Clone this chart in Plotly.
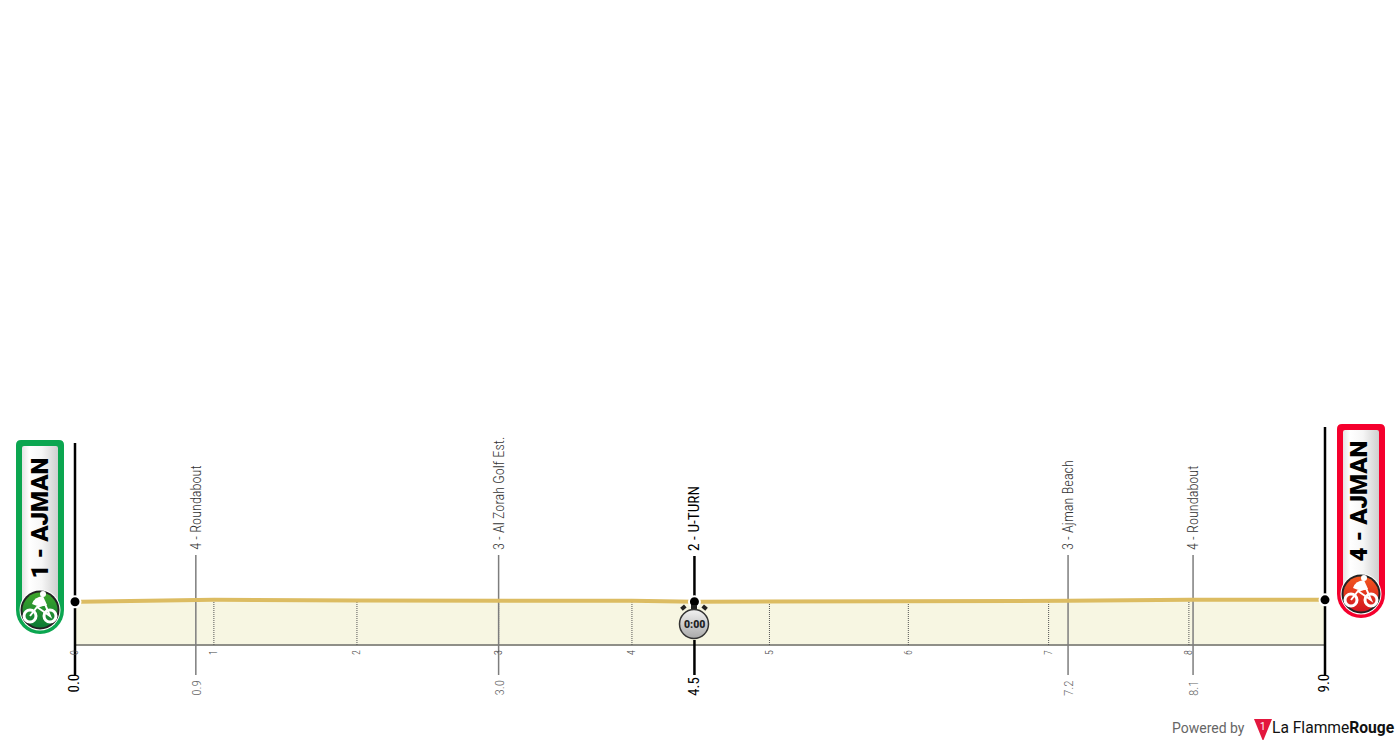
import base64
import numpy as np
import plotly.graph_objects as go

# ---- data ----
profile_km = [0.04, 0.87, 1.0, 2.03, 3.05, 4.01, 4.46, 5.0, 6.0, 7.01, 7.15, 8.02, 8.05, 8.97]
profile_elev = [6.7, 7.0, 7.0, 6.9, 6.9, 6.85, 6.7, 6.7, 6.8, 6.8, 6.85, 7.0, 7.0, 7.0]
km_ticks = [0, 1.0, 2.03, 3.05, 4.01, 5.0, 6.0, 7.01, 8.02]
km_labels = ["0", "1", "2", "3", "4", "5", "6", "7", "8"]
point_km = [0.87, 3.05, 4.46, 7.15, 8.05]
point_names = ["4 - Roundabout", "3 - Al Zorah Golf Est.", "2 - U-TURN", "3 - Ajman Beach", "4 - Roundabout"]
point_dist = ["0.9", "3.0", "4.5", "7.2", "8.1"]
point_major = [False, False, True, False, False]
start_label, finish_label = "1 - AJMAN", "4 - AJMAN"
start_dist, finish_dist = "0.0", "9.0"
start_km, finish_km = 0.0, 9.0
area_km = [0.0, 9.0]
area_elev = [6.7, 7.0]

W, H = 1400, 745
L, R, B = 65, 65, 45
BASE_PX = 645
PW, PH = W - L - R, H - B
KM_PX = 1250 / 9
X_LO = -(75 - L) / KM_PX
X_HI = 9 + (75 - R) / KM_PX
GOLD, FILL, BASE, GREY = "#dcbc62", "#f7f6e2", "#8f8f88", "#7d7d7d"
COND = "Roboto Condensed Light, Roboto Condensed"


def px(p):
    return (p - L) / PW


def kx(k):
    return px(75 + k * KM_PX)


def py(p):
    return (PH - p) / PH


def yval(p):
    return (BASE_PX - p) / 6.45


def uri(svg):
    return "data:image/svg+xml;base64," + base64.b64encode(svg.encode()).decode()


BIKE = (
    '<g fill="none" stroke="#fff" stroke-width="3"><circle cx="{a}" cy="{c}" r="6"/><circle cx="{b}" cy="{c}" r="6"/></g>'
    '<path d="M{a} {c} L{m} {c0} L{b} {c} L{m2} {c1} L{m} {c0}" stroke="#fff" stroke-width="2" fill="none"/>'
    '<path d="M{h0} {t0} Q{h1} {t1} {h2} {t2} L{h3} {t3} Q{h4} {t4} {h0} {t0}" fill="#fff"/>'
    '<circle cx="{hx}" cy="{hy}" r="3" fill="#fff"/>'
)


def pill(border, c1, c2, uid):
    w, h = 48, 194
    bike = BIKE.format(a=14, b=34, c=176, m=21, c0=167, m2=29, c1=164,
                       h0=16, t0=164, h1=18, t1=157, h2=27, t2=156, h3=31, t3=165, h4=24, t4=168,
                       hx=27, hy=154)
    return uri(f'''<svg xmlns="http://www.w3.org/2000/svg" width="{w}" height="{h}" viewBox="0 0 {w} {h}">
<defs><linearGradient id="g{uid}" x1="0" x2="1" y1="0" y2="0"><stop offset="0" stop-color="#e4e4e4"/><stop offset=".2" stop-color="#fff"/><stop offset=".55" stop-color="#f6f6f6"/><stop offset="1" stop-color="#cfcfcf"/></linearGradient>
<linearGradient id="c{uid}" x1="0" x2="0" y1="0" y2="1"><stop offset="0" stop-color="{c1}"/><stop offset="1" stop-color="{c2}"/></linearGradient></defs>
<path d="M5 0H43Q48 0 48 5V170A24 24 0 0 1 0 170V5Q0 0 5 0Z" fill="{border}"/>
<path d="M8 6H40Q42 6 42 8V170H6V8Q6 6 8 6Z" fill="url(#g{uid})"/>
<circle cx="24" cy="170" r="20.5" fill="#fff"/>
<circle cx="24" cy="170" r="19.5" fill="#222"/>
<circle cx="24" cy="170" r="17.5" fill="url(#c{uid})"/>
{bike}</svg>''')


WATCH = uri('''<svg xmlns="http://www.w3.org/2000/svg" width="32" height="38" viewBox="0 0 32 38">
<defs><linearGradient id="w" x1="0" x2="0" y1="0" y2="1"><stop offset="0" stop-color="#f2f2f2"/><stop offset="1" stop-color="#a9a9a9"/></linearGradient></defs>
<rect x="3" y="4" width="5" height="4" fill="#222" transform="rotate(-40 5 6)"/><rect x="24" y="4" width="5" height="4" fill="#222" transform="rotate(40 27 6)"/>
<rect x="13" y="3" width="6" height="5" fill="#222"/>
<circle cx="16" cy="22" r="14.5" fill="url(#w)" stroke="#333" stroke-width="1.5"/></svg>''')

LOGO = uri('''<svg xmlns="http://www.w3.org/2000/svg" width="20" height="22" viewBox="0 0 20 22"><path d="M1 0H19L10.5 21H9.5Z" fill="#e3173e"/></svg>''')

fig = go.Figure()
fig.add_trace(go.Scatter(x=profile_km, y=profile_elev, mode="lines",
                         line=dict(color="#ffffff", width=7), hoverinfo="skip"))
fig.add_trace(go.Scatter(x=area_km, y=area_elev, mode="lines", line=dict(width=0),
                         fill="tozeroy", fillcolor=FILL, hoverinfo="skip"))
fig.add_trace(go.Scatter(x=area_km, y=[0, 0], mode="lines",
                         line=dict(color=BASE, width=2), hoverinfo="skip"))

for k in km_ticks[1:]:
    top = float(np.interp(k, profile_km, profile_elev))
    fig.add_trace(go.Scatter(x=[k, k], y=[0, top], mode="lines",
                             line=dict(color="#555", width=1, dash="1px,1px"), hoverinfo="skip"))

line_bottom = yval(675)
for k, major in zip(point_km, point_major):
    if major:
        fig.add_trace(go.Scatter(x=[k, k], y=[line_bottom, yval(640)], mode="lines",
                                 line=dict(color="#000", width=2.5), hoverinfo="skip"))
        fig.add_trace(go.Scatter(x=[k, k], y=[yval(597), yval(556)], mode="lines",
                                 line=dict(color="#000", width=2.5), hoverinfo="skip"))
    else:
        fig.add_trace(go.Scatter(x=[k, k], y=[line_bottom, yval(555)], mode="lines",
                                 line=dict(color=GREY, width=1.5), hoverinfo="skip"))
for k, top in ((start_km, 443), (finish_km, 427)):
    fig.add_trace(go.Scatter(x=[k, k], y=[line_bottom, yval(top)], mode="lines",
                             line=dict(color="#000", width=2.5), hoverinfo="skip"))

fig.add_trace(go.Scatter(x=profile_km, y=profile_elev, mode="lines",
                         line=dict(color=GOLD, width=4), hoverinfo="skip"))

dot_km = [start_km, point_km[2], finish_km]
dot_elev = [float(np.interp(k, profile_km, profile_elev)) for k in dot_km]
fig.add_trace(go.Scatter(x=dot_km, y=dot_elev, mode="markers", cliponaxis=False, hoverinfo="skip",
                         marker=dict(color="#000", size=11, line=dict(color="#fff", width=2))))

ann = []


def txt(text, x, y, size, color, font=COND, angle=-90, xa="center", ya="bottom"):
    ann.append(dict(text=text, xref="paper", yref="paper", x=x, y=y, showarrow=False,
                    textangle=angle, xanchor=xa, yanchor=ya, font=dict(family=font, size=size, color=color),
                    borderpad=0, borderwidth=0))


for k, name, dist, major in zip(point_km, point_names, point_dist, point_major):
    if major:
        txt(name, kx(k) - 1 / PW, py(551), 15.3, "#000", font="Roboto Condensed")
        txt(dist, kx(k) - 1 / PW, py(696), 15, "#000", font="Roboto Condensed")
    else:
        txt(name, kx(k), py(550), 14.3, "#333")
        txt(dist, kx(k), py(696), 13, "#666")
txt(start_dist, kx(start_km) - 2 / PW, py(693), 15, "#000", font="Roboto Condensed")
txt(finish_dist, kx(finish_km) - 2 / PW, py(693), 15, "#000", font="Roboto Condensed")
txt(start_label, px(39), py(579), 24, "#000", font="Roboto Black, Roboto")
txt(finish_label, px(1358), py(562), 24, "#000", font="Roboto Black, Roboto")
txt("0:00", px(694), py(624), 10.5, "#222", font="Roboto Black, Roboto", angle=0, ya="middle")
txt("Powered by", px(1172), py(728), 14, "#666", font="Roboto", angle=0, xa="left", ya="middle")
txt("1", px(1263), py(727), 10, "#fff", font="Roboto", angle=0, ya="middle")
txt("La Flamme<b>Rouge</b>", px(1395), py(728), 15.6, "#111", font="Roboto", angle=0, xa="right", ya="middle")

images = [
    dict(source=pill("#0ba650", "#3ea62b", "#0b7a35", "a"), xref="paper", yref="paper", x=px(16), y=py(440),
         sizex=48 / PW, sizey=194 / PH, xanchor="left", yanchor="top", sizing="stretch", layer="above"),
    dict(source=pill("#f5002d", "#f2581f", "#d3141f", "b"), xref="paper", yref="paper", x=px(1337), y=py(424),
         sizex=48 / PW, sizey=194 / PH, xanchor="left", yanchor="top", sizing="stretch", layer="above"),
    dict(source=WATCH, xref="paper", yref="paper", x=px(678), y=py(602), sizex=32 / PW, sizey=38 / PH,
         xanchor="left", yanchor="top", sizing="stretch", layer="above"),
    dict(source=LOGO, xref="paper", yref="paper", x=px(1253), y=py(719), sizex=20 / PW, sizey=22 / PH,
         xanchor="left", yanchor="top", sizing="stretch", layer="above"),
]

fig.update_layout(
    width=W, height=H, margin=dict(l=L, r=R, t=0, b=B, pad=0), showlegend=False,
    paper_bgcolor="#fff", plot_bgcolor="#fff", annotations=ann, images=images,
    xaxis=dict(range=[X_LO, X_HI], tickmode="array", tickvals=km_ticks, ticktext=km_labels, tickangle=-90,
               anchor="free", position=(PH - BASE_PX) / PH, ticklabelstandoff=2,
               showgrid=False, zeroline=False, showline=False, ticks="",
               tickfont=dict(family=COND, size=10, color="#444"), fixedrange=True),
    yaxis=dict(range=[yval(PH), yval(0)], visible=False, fixedrange=True),
)
fig.write_html("out.html", config=dict(displayModeBar=False),
               post_script="document.body.style.margin='0';")
